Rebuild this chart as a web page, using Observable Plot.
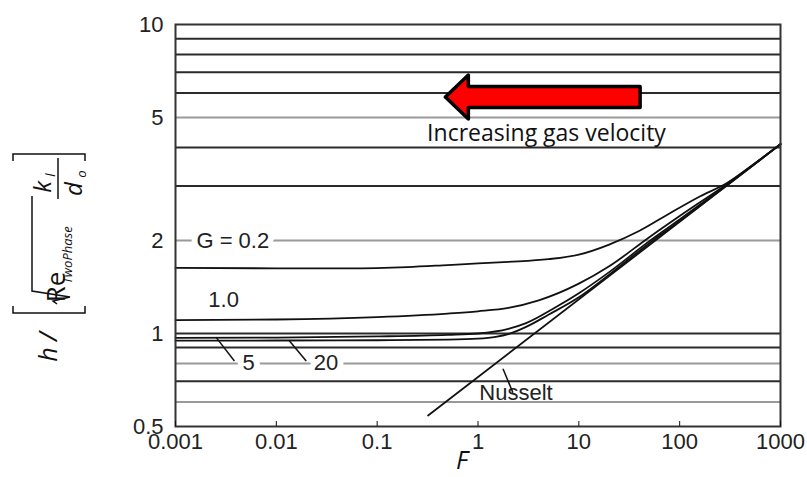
<!DOCTYPE html>
<html><head><meta charset="utf-8">
<script src="https://cdn.jsdelivr.net/npm/d3@7"></script>
<script src="https://cdn.jsdelivr.net/npm/@observablehq/plot@0.6"></script>
<style>
html,body{margin:0;padding:0;background:#fff;}
#chart{width:807px;height:477px;}
</style></head><body><div id="chart"></div>
<script>
// ---- tick labels ----
const xTicks = [0.001, 0.01, 0.1, 1, 10, 100, 1000];
const xTickLabels = ["0.001", "0.01", "0.1", "1", "10", "100", "1000"];
const yTicks = [0.5, 1, 2, 5, 10];
const yTickLabels = ["0.5", "1", "2", "5", "10"];
const gridDark = [9, 8, 7, 6, 4, 3, 1, 0.9, 0.7];
const gridGray = [5, 2, 0.8, 0.6];

// ---- series (F, h/[...]) ----
const F_G02 = [0.001, 0.01, 0.05, 0.2, 0.5, 1, 2, 5, 10, 20, 40, 80, 150, 300, 600, 1000];
const V_G02 = [1.63, 1.625, 1.625, 1.64, 1.665, 1.685, 1.705, 1.74, 1.80, 1.94, 2.15, 2.45, 2.75, 3.08, 3.62, 4.1];
const F_G1 = [0.001, 0.01, 0.1, 0.5, 1, 2, 4, 10, 20, 50, 100, 300, 1000];
const V_G1 = [1.105, 1.11, 1.13, 1.16, 1.18, 1.21, 1.28, 1.45, 1.65, 2.05, 2.40, 3.06, 4.1];
const F_G5 = [0.001, 0.01, 0.1, 0.5, 1, 2, 3, 6, 10, 20, 50, 100, 300, 1000];
const V_G5 = [0.968, 0.97, 0.978, 0.99, 1.0, 1.035, 1.08, 1.22, 1.35, 1.58, 1.99, 2.34, 3.04, 4.1];
const F_G20 = [0.001, 0.01, 0.1, 0.5, 1, 1.5, 2, 3, 5, 10, 20, 50, 100, 300, 1000];
const V_G20 = [0.948, 0.949, 0.951, 0.955, 0.962, 0.975, 0.995, 1.05, 1.15, 1.31, 1.55, 1.96, 2.31, 3.03, 4.1];
const F_Nu = [0.32, 1000];
const V_Nu = [0.543, 4.1];

// ---- annotations ----
const curveLabels = [
  {F: 0.0037, V: 2, text: "G = 0.2"},
  {F: 0.0053, V: 0.8, text: "5"},
  {F: 0.031, V: 0.8, text: "20"}
];
const plainLabels = [
  {F: 0.003, V: 1.285, text: "1.0", anchor: "middle"},
  {F: 2.38, V: 0.643, text: "Nusselt", anchor: "start"}
];
const leaders = [
  {F1: 0.00255, V1: 0.968, F2: 0.00384, V2: 0.815},
  {F1: 0.01345, V1: 0.948, F2: 0.0198, V2: 0.815},
  {F1: 1.77, V1: 0.769, F2: 2.22, V2: 0.643}
];
const arrowNote = {tipF: 0.48, tailF: 41, V: 5.8};
const noteText = [{F: 4.78, V: 4.44, text: "Increasing gas velocity"}];

const rows = [];
function addSeries(name, F, V) { F.forEach((f, i) => rows.push({series: name, F: f, V: V[i]})); }
addSeries("0.2", F_G02, V_G02);
addSeries("1.0", F_G1, V_G1);
addSeries("5", F_G5, V_G5);
addSeries("20", F_G20, V_G20);
addSeries("Nusselt", F_Nu, V_Nu);

const xLab = new Map(xTicks.map((t, i) => [t, xTickLabels[i]]));
const yLab = new Map(yTicks.map((t, i) => [t, yTickLabels[i]]));

const chart = Plot.plot({
  width: 807, height: 477,
  marginLeft: 175, marginRight: 27, marginTop: 24, marginBottom: 51,
  style: {fontFamily: "'Liberation Sans', Arial, sans-serif", fontSize: "22px", color: "#111", background: "#fff"},
  x: {type: "log", domain: [0.001, 1000]},
  y: {type: "log", domain: [0.5, 10]},
  marks: [
    Plot.ruleY(gridGray, {stroke: "#9a9a9a", strokeWidth: 2}),
    Plot.ruleY(gridDark, {stroke: "#2b2b2b", strokeWidth: 2}),
    Plot.text(curveLabels, {x: "F", y: "V", text: "text", fill: "#222", stroke: "white", strokeWidth: 12, fontSize: 22}),
    Plot.text(plainLabels, {x: "F", y: "V", text: "text", fill: "#222", fontSize: 22, textAnchor: d => d.anchor}),
    Plot.line(rows, {x: "F", y: "V", z: "series", stroke: "#111", strokeWidth: 1.8, curve: "monotone-x"}),
    Plot.link(leaders, {x1: "F1", y1: "V1", x2: "F2", y2: "V2", stroke: "#111", strokeWidth: 1.5}),
    Plot.text(noteText, {x: "F", y: "V", text: "text", fill: "#111", fontSize: 23, fontFamily: "'Open Sans'"}),
    Plot.frame({stroke: "#333", strokeWidth: 2}),
    Plot.axisX({ticks: xTicks, tickFormat: d => xLab.get(d), tickSize: -5, tickPadding: 12, label: null, fill: "#222"}),
    Plot.axisY({ticks: yTicks, tickFormat: d => yLab.get(d), tickSize: 0, tickPadding: 12, label: null, fill: "#222"})
  ]
});
document.getElementById("chart").appendChild(chart);

// ---- arrow + axis titles (annotations) ----
const sx = chart.scale("x"), sy = chart.scale("y");
const svg = d3.select(chart);
const tx = sx.apply(arrowNote.tipF), tl = sx.apply(arrowNote.tailF), cy = sy.apply(arrowNote.V);
const hl = 23, hh = 22, bh = 10.5;
const pts = [[tx, cy], [tx + hl, cy - hh], [tx + hl, cy - bh], [tl, cy - bh], [tl, cy + bh], [tx + hl, cy + bh], [tx + hl, cy + hh]];
svg.append("path").attr("d", "M" + pts.map(p => p.join(",")).join("L") + "Z")
  .attr("fill", "#ff0000").attr("stroke", "#000").attr("stroke-width", 3.5).attr("stroke-linejoin", "round");

// x title
svg.append("text").attr("x", 462).attr("y", 469).attr("text-anchor", "middle")
  .attr("font-family", "'Open Sans'").attr("font-style", "italic").attr("font-size", 25).attr("fill", "#111").text("F");

// y title: h / [ sqrt(Re_TwoPhase) k_l / d_o ]
const yl = svg.append("g").attr("fill", "#111").attr("font-family", "'Open Sans'");
function rtext(x, y, size, italic, str) {
  yl.append("text").attr("transform", `translate(${x},${y}) rotate(-90)`)
    .attr("font-size", size).attr("font-style", italic ? "italic" : "normal").text(str);
}
rtext(57, 347, 25, true, "h /");
rtext(65, 287, 26, false, "Re");
rtext(72, 255, 13, true, "TwoPhase");
rtext(51, 187, 24, true, "k");
rtext(55, 175, 13, true, "l");
rtext(82, 189, 24, true, "d");
rtext(86, 174, 13, true, "o");
const lp = svg.append("g").attr("fill", "none").attr("stroke", "#111").attr("stroke-width", 1.5);
lp.append("path").attr("d", "M13,306V313H85V306");
lp.append("path").attr("d", "M13,161V154H85V161");
lp.append("path").attr("d", "M57,304L53,301L70,297L32,291V196");
lp.append("path").attr("d", "M58,199V158");
</script>
</body></html>
